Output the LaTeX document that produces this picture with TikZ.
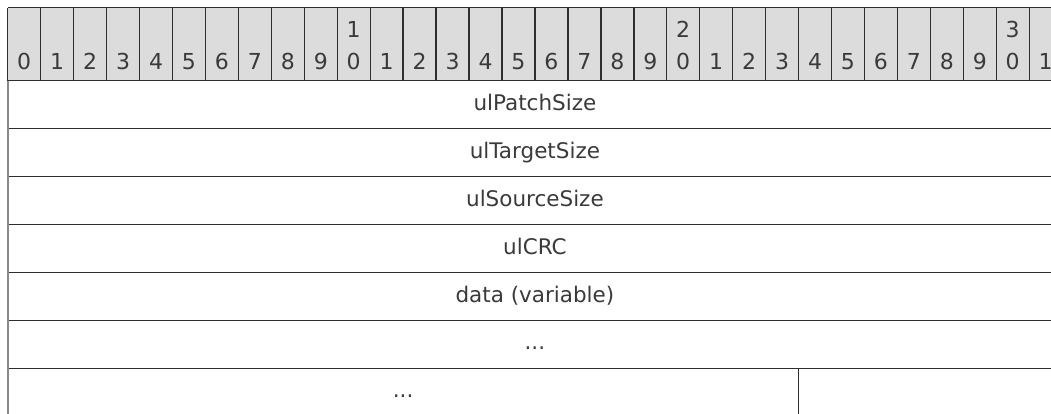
\documentclass[tikz,border=0pt]{standalone}
\usepackage{fontspec}
\setmainfont{DejaVu Sans}
\definecolor{hdrfill}{HTML}{DCDCDC}
\definecolor{linecol}{HTML}{2E2E2E}
\definecolor{txtcol}{HTML}{3A3A3A}
\definecolor{bordercol}{HTML}{8A8A8A}
\tikzset{
  gridline/.style={draw=linecol, line width=1.4pt},
  leftborder/.style={draw=bordercol, line width=2pt},
  digit/.style={anchor=base, text=txtcol, inner sep=0pt, font=\fontsize{22}{26}\selectfont},
  fieldlabel/.style={anchor=base, text=txtcol, inner sep=0pt, font=\fontsize{21.5}{25}\selectfont}
}
\begin{document}
\begin{tikzpicture}[x=1pt,y=-1pt]
\useasboundingbox (0,0) rectangle (1051,413);
\clip (0,0) rectangle (1051,413);
\def\xo{7.75}
\def\cw{32.95}
\def\rh{47.95}
\def\htop{7.5}
\def\hbot{80.7}
% header background
\fill[hdrfill] (\xo,\htop) rectangle (1070,\hbot);
% header vertical lines
\foreach \k in {0,...,32} {
  \draw[gridline] ({\xo+\k*\cw},\htop) -- ({\xo+\k*\cw},\hbot);
}
\draw[gridline] (\xo,\htop) -- (1070,\htop);
\draw[gridline] (\xo,\hbot) -- (1070,\hbot);
% header digits
\foreach \k in {0,...,31} {
  \pgfmathtruncatemacro{\tens}{int(\k/10)}
  \pgfmathtruncatemacro{\ones}{\k-10*\tens}
  \node[digit] (d\k) at ({\xo+(\k+0.5)*\cw},69) {\ones};
  \ifnum\k>9 \ifnum\ones=0
    \node[digit] (t\k) at ({\xo+(\k+0.5)*\cw},37) {\tens};
  \fi\fi
}
% row lines
\foreach \r in {1,...,6} {
  \draw[gridline] (\xo,{\hbot+\r*\rh}) -- (1070,{\hbot+\r*\rh});
}
% split in last row (after bit 23)
\draw[gridline] ({\xo+24*\cw},{\hbot+6*\rh}) -- ({\xo+24*\cw},420);
% left border of the rows
\draw[leftborder] (\xo,\hbot) -- (\xo,420);
% labels
\def\cx{534.9}
\node[fieldlabel] (f1) at (\cx,{\hbot+0*\rh+29.5}) {ulPatchSize};
\node[fieldlabel] (f2) at (\cx,{\hbot+1*\rh+29.5}) {ulTargetSize};
\node[fieldlabel] (f3) at (\cx,{\hbot+2*\rh+29.5}) {ulSourceSize};
\node[fieldlabel] (f4) at (\cx,{\hbot+3*\rh+29.5}) {ulCRC};
\node[fieldlabel] (f5) at (\cx,{\hbot+4*\rh+29.5}) {data (variable)};
\node[fieldlabel] (f6) at (\cx,{\hbot+5*\rh+29.5}) {...};
\node[fieldlabel] (f7) at ({\xo+12*\cw},{\hbot+6*\rh+29.5}) {...};
\end{tikzpicture}
\end{document}
